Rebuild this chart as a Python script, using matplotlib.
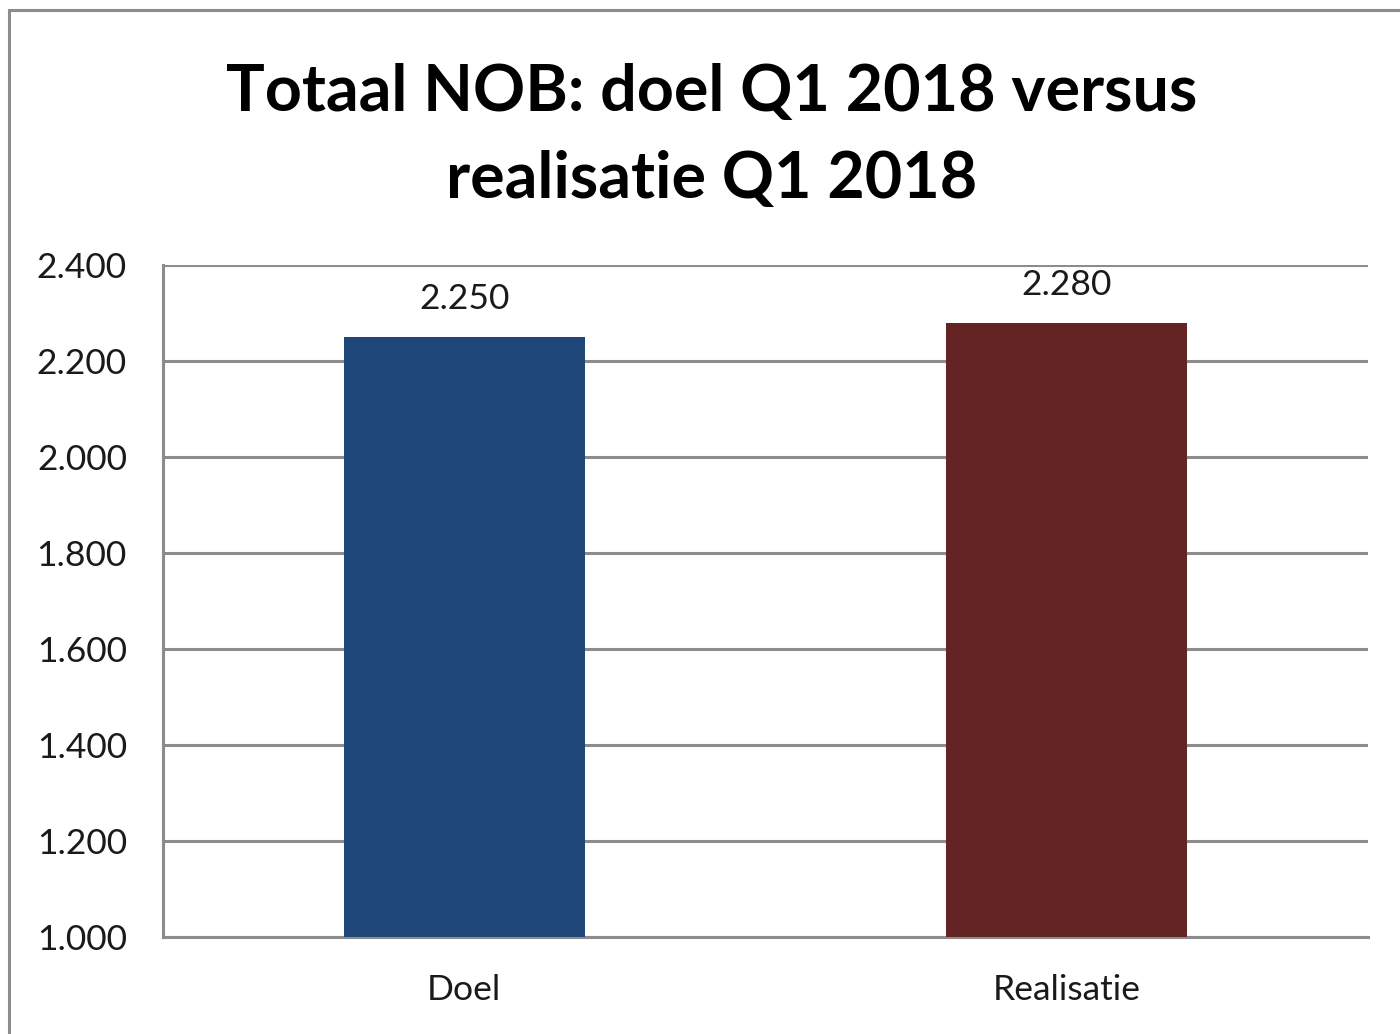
import matplotlib.pyplot as plt
from matplotlib.patches import Rectangle

categories = ['Doel', 'Realisatie']
values = [2250, 2280]
value_labels = ['2.250', '2.280']
bar_colors = ['#1F477A', '#632423']
yticks = [1000, 1200, 1400, 1600, 1800, 2000, 2200, 2400]
ytick_labels = ['1.000', '1.200', '1.400', '1.600', '1.800', '2.000', '2.200', '2.400']
title = 'Totaal NOB: doel Q1 2018 versus\nrealisatie Q1 2018'

plt.rcParams['font.family'] = ['Lato', 'DejaVu Sans']
grid_col = '#8C8C8C'
txt_col = '#1a1a1a'

fig = plt.figure(figsize=(14, 10.34), dpi=100)
# outer chart frame, only left and top edges are visible in the picture
fig.add_artist(Rectangle((9 / 1400, -0.1), 1.2, 1 - 10 / 1034 + 0.1, transform=fig.transFigure,
                         fill=False, edgecolor=grid_col, linewidth=2.2))

ax = fig.add_axes([163 / 1400, 1 - 937 / 1034, (1368 - 163) / 1400, (937 - 265) / 1034])
x = range(len(categories))
ax.bar(x, [v - 1000 for v in values], bottom=1000, width=0.4, color=bar_colors, zorder=3)
for i, v in enumerate(values):
    ax.annotate(value_labels[i], (i, v), xytext=(0, 28), textcoords='offset pixels',
                ha='center', va='baseline', fontsize=25.5, color=txt_col)

ax.set_xlim(-0.5, 1.5)
ax.set_ylim(1000, 2400)
ax.set_yticks(yticks)
ax.set_yticklabels(ytick_labels, fontsize=25.5, color=txt_col)
ax.set_xticks(list(x))
ax.set_xticklabels(categories, fontsize=25.5, color=txt_col)
ax.tick_params(axis='both', length=0)
ax.tick_params(axis='y', pad=26)
ax.tick_params(axis='x', pad=27)
ax.grid(axis='y', color=grid_col, linewidth=2.2, zorder=0)
for s in ['top', 'right']:
    ax.spines[s].set_visible(False)
for s in ['left', 'bottom']:
    ax.spines[s].set_color(grid_col)
    ax.spines[s].set_linewidth(2.2)

fig.text(0.508, 1 - 136 / 1034, title, ha='center', va='center', fontsize=46.5,
         fontweight='bold', linespacing=1.6)

fig.savefig('out.png', dpi=100, facecolor='white')
